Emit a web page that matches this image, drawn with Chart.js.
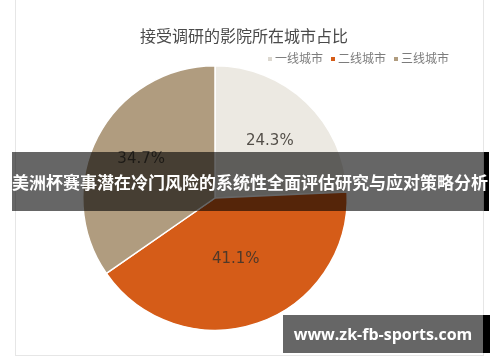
<!DOCTYPE html>
<html lang="zh">
<head>
<meta charset="UTF-8">
<title>接受调研的影院所在城市占比</title>
<style>
    body {
        margin: 0;
        width: 500px;
        height: 362px;
        background: #fff;
        position: relative;
        overflow: hidden;
        font-family: "Noto Sans CJK SC", sans-serif;
    }

    .frame {
        position: absolute;
        left: 15px;
        top: -1px;
        width: 467px;
        height: 355px;
        border: 1px solid #e6e6e6;
    }

    canvas {
        position: absolute;
        left: 0;
        top: 0;
    }

    .title {
        position: absolute;
        left: 0;
        width: 488px;
        top: 23px;
        text-align: center;
        font-size: 16px;
        color: #4a4a4a;
        line-height: 24px;
    }

    .legend {
        position: absolute;
        left: 268px;
        top: 50px;
        font-size: 12px;
        color: #7c7c7c;
        line-height: 16px;
        white-space: nowrap;
    }

    .legend span.box {
        display: inline-block;
        width: 4px;
        height: 4px;
        margin: 0 3px 2px 0;
        vertical-align: middle;
    }

    .legend span.item {
        display: inline-block;
        margin-right: 8px;
    }

    .banner {
        position: absolute;
        left: 12px;
        top: 152px;
        width: 472px;
        height: 59px;
        background: rgba(0, 0, 0, 0.6);
        border-right: 5px solid #000;
        color: #fff;
        font-weight: bold;
        font-size: 17px;
        line-height: 59px;
        text-align: center;
        white-space: nowrap;
    }

    .mark {
        position: absolute;
        left: 283px;
        top: 315px;
        width: 200px;
        height: 38px;
        background: rgba(0, 0, 0, 0.6);
        border-right: 7px solid #000;
        color: #fff;
        font-family: "Open Sans", sans-serif;
        font-weight: bold;
        font-size: 16px;
        line-height: 38px;
        text-align: center;
    }
</style>
<script src="https://cdn.jsdelivr.net/npm/chart.js"></script>
</head>
<body>
    <div class="frame"></div>
    <canvas id="pieChart" width="500" height="362"></canvas>
    <div class="title">接受调研的影院所在城市占比</div>
    <div class="legend" id="legend"></div>
    <div class="banner">美洲杯赛事潜在冷门风险的系统性全面评估研究与应对策略分析</div>
    <div class="mark">www.zk-fb-sports.com</div>

<script>
    const cities = ['一线城市', '二线城市', '三线城市'];
    const shares = [24.3, 41.1, 34.7];
    const sliceColors = ['#ece9e2', '#d55c18', '#b09c7f'];

    // legend
    const legend = document.getElementById('legend');
    cities.forEach((c, i) => {
        legend.innerHTML += '<span class="item"><span class="box" style="background:' +
            (i === 0 ? '#dcd8d0' : sliceColors[i]) + '"></span>' + c + '</span>';
    });

    // percentage labels inside slices
    const sliceLabels = {
        id: 'sliceLabels',
        afterDatasetsDraw(chart, args, opts) {
            const ctx = chart.ctx;
            const meta = chart.getDatasetMeta(0);
            ctx.save();
            ctx.font = '15px "DejaVu Sans", sans-serif';
            ctx.fillStyle = 'rgba(55, 50, 45, 0.85)';
            ctx.textAlign = 'center';
            ctx.textBaseline = 'middle';
            meta.data.forEach((arc, i) => {
                const p = arc.getProps(['x', 'y', 'startAngle', 'endAngle', 'outerRadius']);
                const mid = (p.startAngle + p.endAngle) / 2;
                const r = p.outerRadius * opts.radius[i];
                ctx.fillText(shares[i].toFixed(1) + '%', p.x + Math.cos(mid) * r, p.y + Math.sin(mid) * r);
            });
            ctx.restore();
        }
    };

    const ctx = document.getElementById('pieChart').getContext('2d');
    const pieChart = new Chart(ctx, {
        type: 'pie',
        data: {
            labels: cities,
            datasets: [{
                data: shares,
                backgroundColor: sliceColors,
                borderColor: '#ffffff',
                borderWidth: 1.5
            }]
        },
        options: {
            responsive: false,
            animation: false,
            layout: {
                padding: { left: 82, right: 152, top: 65, bottom: 31 }
            },
            plugins: {
                legend: { display: false },
                title: { display: false },
                tooltip: { enabled: false },
                sliceLabels: { radius: [0.6, 0.49, 0.63] }
            }
        },
        plugins: [sliceLabels]
    });
</script>
</body>
</html>
